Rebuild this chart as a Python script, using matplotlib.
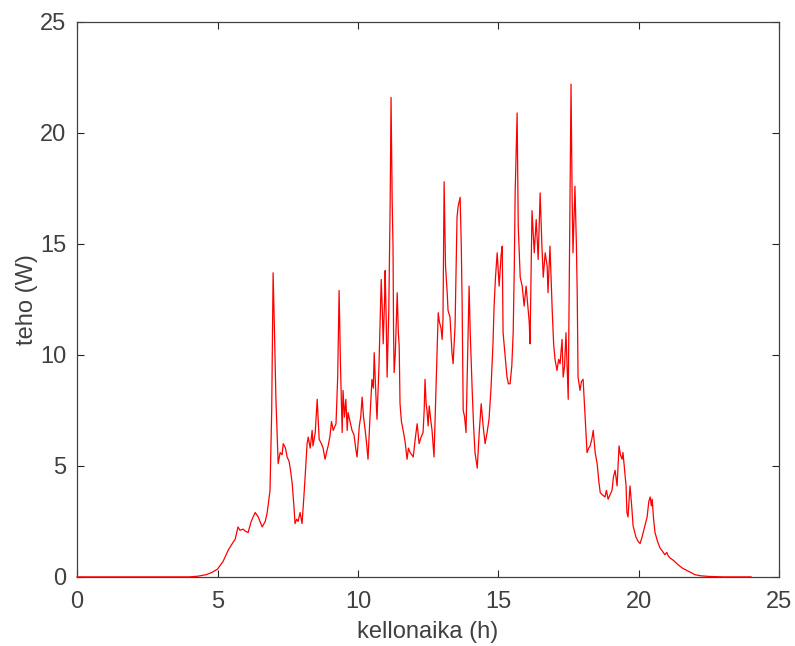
import matplotlib.pyplot as plt

# kellonaika (h) ja teho (W), luettu kuvasta
aika = [0.0, 4.0, 4.3, 4.6, 4.8, 5.0, 5.2, 5.38, 5.5, 5.63, 5.73, 5.8, 5.91, 6.0, 6.09, 6.2,
        6.34, 6.45, 6.59, 6.7, 6.77, 6.87, 6.93, 6.98, 7.03, 7.08, 7.12, 7.16, 7.23, 7.3,
        7.34, 7.42, 7.48, 7.55, 7.6, 7.66, 7.72, 7.76, 7.82, 7.87, 7.94, 8.01, 8.07, 8.12,
        8.19, 8.23, 8.3, 8.37, 8.4, 8.48, 8.55, 8.62, 8.7, 8.76, 8.83, 8.9, 8.94, 9.0, 9.06,
        9.12, 9.22, 9.28, 9.33, 9.38, 9.44, 9.47, 9.52, 9.57, 9.62, 9.65, 9.72, 9.79, 9.86,
        9.92, 9.97, 10.05, 10.1, 10.15, 10.2, 10.26, 10.31, 10.36, 10.43, 10.5, 10.55, 10.58,
        10.64, 10.68, 10.75, 10.83, 10.87, 10.9, 10.95, 10.97, 11.01, 11.04, 11.1, 11.15,
        11.18, 11.22, 11.25, 11.27, 11.29, 11.33, 11.4, 11.44, 11.47, 11.5, 11.55, 11.61,
        11.68, 11.75, 11.8, 11.86, 11.92, 11.97, 12.04, 12.11, 12.18, 12.25, 12.32, 12.36,
        12.39, 12.43, 12.46, 12.5, 12.54, 12.6, 12.64, 12.71, 12.77, 12.82, 12.86, 12.9,
        12.96, 13.0, 13.03, 13.07, 13.12, 13.18, 13.21, 13.28, 13.35, 13.39, 13.46, 13.53,
        13.57, 13.64, 13.68, 13.71, 13.75, 13.8, 13.85, 13.9, 13.96, 14.0, 14.07, 14.12,
        14.17, 14.25, 14.32, 14.39, 14.46, 14.53, 14.6, 14.67, 14.74, 14.81, 14.85, 14.9,
        14.96, 15.03, 15.1, 15.14, 15.17, 15.24, 15.31, 15.36, 15.42, 15.48, 15.53, 15.57,
        15.6, 15.67, 15.71, 15.78, 15.85, 15.92, 15.99, 16.03, 16.1, 16.13, 16.2, 16.28,
        16.35, 16.42, 16.49, 16.55, 16.6, 16.67, 16.74, 16.77, 16.84, 16.92, 16.97, 17.02,
        17.09, 17.15, 17.2, 17.27, 17.31, 17.36, 17.41, 17.45, 17.49, 17.54, 17.59, 17.63,
        17.66, 17.73, 17.78, 17.81, 17.84, 17.91, 17.96, 18.02, 18.08, 18.16, 18.22, 18.27,
        18.33, 18.38, 18.45, 18.52, 18.58, 18.63, 18.7, 18.8, 18.85, 18.91, 18.98, 19.05,
        19.1, 19.16, 19.23, 19.3, 19.35, 19.41, 19.44, 19.5, 19.55, 19.58, 19.62, 19.69,
        19.75, 19.8, 19.9, 19.98, 20.05, 20.12, 20.2, 20.3, 20.36, 20.41, 20.45, 20.48,
        20.53, 20.58, 20.67, 20.76, 20.85, 20.93, 21.0, 21.05, 21.12, 21.23, 21.4, 21.55,
        21.7, 21.85, 22.0, 22.2, 22.5, 23.0, 24.0]
teho = [0, 0, 0.03, 0.1, 0.2, 0.35, 0.7, 1.2, 1.45, 1.7, 2.25, 2.1, 2.15, 2.05, 2.0, 2.5,
        2.9, 2.7, 2.25, 2.5, 2.9, 3.9, 7.5, 13.7, 11.0, 8.0, 6.5, 5.1, 5.6, 5.5,
        6.0, 5.8, 5.4, 5.2, 4.8, 4.2, 3.2, 2.4, 2.6, 2.5, 2.9, 2.4, 3.5, 4.5,
        6.0, 6.3, 5.8, 6.6, 5.9, 6.5, 8.0, 6.2, 6.0, 5.8, 5.3, 5.7, 5.9, 6.3, 7.0,
        6.6, 6.9, 9.0, 12.9, 9.5, 6.5, 8.4, 7.2, 8.0, 6.6, 7.4, 7.0, 6.6, 6.4,
        5.8, 5.4, 6.8, 7.2, 8.1, 7.2, 6.6, 6.0, 5.3, 7.2, 8.9, 8.5, 10.1,
        8.2, 7.1, 9.5, 13.4, 12.0, 10.5, 12.5, 13.8, 11.5, 9.0, 12.0, 17.0,
        21.6, 17.0, 14.9, 11.0, 9.2, 10.0, 12.8, 11.0, 10.4, 7.8, 7.0, 6.6,
        6.1, 5.3, 5.8, 5.6, 5.5, 5.4, 6.2, 6.9, 6.0, 6.3, 6.5, 7.5,
        8.9, 7.8, 7.5, 6.8, 7.7, 7.0, 6.6, 5.4, 8.0, 10.0, 11.9, 11.5,
        11.2, 10.7, 11.6, 17.8, 14.0, 12.8, 12.0, 11.7, 10.1, 9.6, 11.3, 16.2,
        16.7, 17.1, 15.0, 12.5, 7.5, 7.2, 6.5, 9.5, 13.1, 11.0, 8.4, 6.8,
        5.6, 4.9, 6.5, 7.8, 6.8, 6.0, 6.5, 7.1, 8.5, 10.5, 12.2, 13.5,
        14.6, 13.1, 14.5, 14.9, 11.0, 10.0, 9.0, 8.7, 8.7, 9.5, 11.0, 14.0,
        17.3, 20.9, 15.8, 13.5, 13.1, 12.2, 13.1, 12.5, 11.5, 10.5, 16.5, 14.6,
        16.1, 14.3, 17.3, 15.0, 13.5, 14.6, 14.0, 12.8, 14.9, 12.0, 10.5, 9.8,
        9.3, 9.8, 9.6, 10.7, 9.0, 9.5, 11.0, 9.5, 8.0, 15.0, 22.2, 17.0,
        14.6, 17.6, 15.0, 12.8, 9.0, 8.4, 8.8, 8.9, 7.5, 5.6, 5.8, 5.9,
        6.2, 6.6, 5.6, 5.1, 4.3, 3.8, 3.7, 3.6, 3.9, 3.5, 3.7, 3.9,
        4.5, 4.8, 4.1, 5.9, 5.5, 5.3, 5.6, 4.8, 4.1, 2.9, 2.7, 4.1,
        3.2, 2.3, 1.8, 1.6, 1.5, 1.8, 2.2, 2.7, 3.4, 3.6, 3.2, 3.5,
        2.6, 2.0, 1.6, 1.3, 1.15, 1.0, 1.1, 0.95, 0.85, 0.75, 0.55, 0.4,
        0.3, 0.2, 0.1, 0.05, 0.02, 0, 0]

plt.rcParams['font.family'] = ['Liberation Sans', 'DejaVu Sans']

fig = plt.figure(figsize=(7.95, 6.46), dpi=100)
ax = fig.add_axes([0.097, 0.107, 0.883, 0.859])
ax.plot(aika, teho, color='red', linewidth=0.9, clip_on=False, zorder=3)

ax.set_xlim(0, 25)
ax.set_ylim(0, 25)
ax.set_xticks([0, 5, 10, 15, 20, 25])
ax.set_yticks([0, 5, 10, 15, 20, 25])
ax.tick_params(direction='in', length=5, width=0.8, color='#262626',
               labelsize=17, labelcolor='#404040', top=True, right=True)
ax.tick_params(axis='x', pad=10)
ax.tick_params(axis='y', pad=8)
for s in ax.spines.values():
    s.set_color('#404040')
    s.set_linewidth(0.9)
ax.set_xlabel('kellonaika (h)', fontsize=17, color='#404040', labelpad=6)
ax.set_ylabel('teho (W)', fontsize=17, color='#404040', labelpad=1)

fig.savefig('out.png', dpi=100)
